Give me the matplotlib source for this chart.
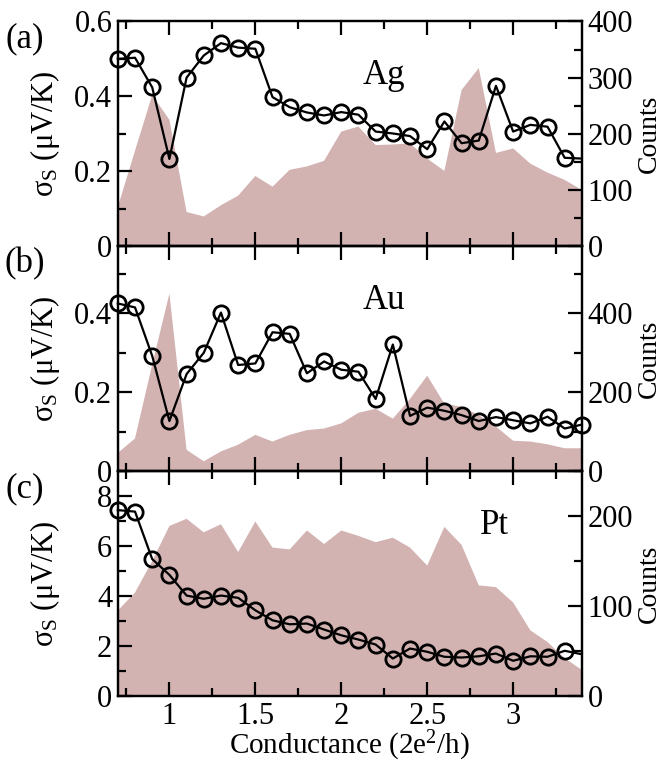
import numpy as np
import matplotlib
matplotlib.use('Agg')
import matplotlib.pyplot as plt
from matplotlib.ticker import MultipleLocator, FormatStrFormatter

plt.rcParams['font.family'] = 'serif'
plt.rcParams['font.serif'] = ['Liberation Serif', 'DejaVu Serif']
plt.rcParams['mathtext.fontset'] = 'stix'

# conductance grid (2e^2/h)
G = [0.7, 0.8, 0.9, 1.0, 1.1, 1.2, 1.3, 1.4, 1.5, 1.6, 1.7, 1.8, 1.9, 2.0,
     2.1, 2.2, 2.3, 2.4, 2.5, 2.6, 2.7, 2.8, 2.9, 3.0, 3.1, 3.2, 3.3, 3.4]

# sigma_S (uV/K)
sig_ag = [0.500, 0.503, 0.424, 0.233, 0.450, 0.509, 0.542, 0.530, 0.527, 0.398,
          0.371, 0.357, 0.349, 0.358, 0.351, 0.306, 0.301, 0.294, 0.259, 0.333,
          0.275, 0.282, 0.428, 0.306, 0.324, 0.319, 0.236, 0.234]
sig_au = [0.425, 0.415, 0.292, 0.127, 0.246, 0.300, 0.402, 0.269, 0.273, 0.352,
          0.348, 0.248, 0.278, 0.257, 0.252, 0.183, 0.321, 0.140, 0.161, 0.153,
          0.142, 0.127, 0.137, 0.129, 0.121, 0.138, 0.108, 0.118]
sig_pt = [7.44, 7.38, 5.48, 4.85, 4.02, 3.89, 4.02, 3.93, 3.43, 3.03,
          2.87, 2.90, 2.66, 2.43, 2.26, 2.06, 1.50, 1.90, 1.77, 1.57,
          1.54, 1.59, 1.70, 1.41, 1.59, 1.57, 1.81, 1.67]

# histogram counts
cnt_ag = [70, 170, 269, 225, 61, 53, 73, 90, 125, 106, 136, 142, 152, 204,
          213, 180, 181, 183, 156, 134, 278, 317, 166, 174, 147, 131, 118, 100]
cnt_au = [46, 83, 270, 450, 54, 25, 50, 67, 92, 75, 92, 104, 108, 121,
          148, 158, 133, 183, 242, 171, 163, 142, 113, 77, 75, 68, 58, 58]
cnt_pt = [95, 115, 150, 189, 197, 182, 191, 160, 194, 165, 163, 184, 169, 184,
          178, 171, 176, 165, 145, 188, 168, 123, 121, 104, 73, 60, 42, 29]

panels = [
    ('(a)', 'Ag', sig_ag, cnt_ag, 0.6, 0.2, 0.1, 400, 100, 50, 2.25, True),
    ('(b)', 'Au', sig_au, cnt_au, 0.57, 0.2, 0.1, 570, 200, 100, 2.25, False),
    ('(c)', 'Pt', sig_pt, cnt_pt, 9, 2, 1, 250, 100, 50, 2.89, True),
]

fig, axes = plt.subplots(3, 1, figsize=(6.62, 7.64), dpi=100, sharex=True)
fig.subplots_adjust(left=0.178, right=0.879, top=0.972, bottom=0.089, hspace=0)

fill_col = '#d3b2b2'
for ax, (tag, metal, sig, cnt, ymax, ymaj, ymin, cmax, cmaj, cmin, tx, last_open) in zip(axes, panels):
    ax2 = ax.twinx()
    ax2.fill_between(G, cnt, 0, facecolor=fill_col, edgecolor='none', lw=0)
    ax2.set_ylim(0, cmax)
    ax2.yaxis.set_major_locator(MultipleLocator(cmaj))
    ax2.yaxis.set_minor_locator(MultipleLocator(cmin))
    ax2.set_ylabel('Counts', fontsize=20)
    ax2.yaxis.set_label_coords(1.118, 0.5)

    ax.set_zorder(ax2.get_zorder() + 1)
    ax.patch.set_visible(False)
    mk = list(range(len(G) - 1)) if last_open else list(range(len(G)))
    ax.plot(G, sig, '-', color='k', lw=1.6, marker='o', ms=11, mfc='none',
            mec='k', mew=2, markevery=mk, clip_on=False)
    ax.set_xlim(0.7, 3.4)
    ax.set_ylim(0, ymax)
    ax.yaxis.set_major_locator(MultipleLocator(ymaj))
    ax.yaxis.set_minor_locator(MultipleLocator(ymin))
    ax.yaxis.set_major_formatter(FormatStrFormatter('%g'))
    ax.xaxis.set_major_locator(MultipleLocator(0.5))
    ax.xaxis.set_minor_locator(MultipleLocator(0.25))
    ax.xaxis.set_major_formatter(FormatStrFormatter('%g'))
    ax.set_ylabel(r'$\mathregular{\sigma_S}$ (μV/K)', fontsize=22)
    ax.yaxis.set_label_coords(-0.12, 0.5)
    ax.text(tx, 0.76 * ymax, metal, fontsize=25, ha='center', va='center')

    for a in (ax, ax2):
        for s in a.spines.values():
            s.set_linewidth(1.6)
        a.tick_params(which='both', direction='in', width=1.6, labelsize=22, pad=4)
        a.tick_params(which='major', length=10)
        a.tick_params(which='minor', length=5.5)
    ax.tick_params(which='both', top=True, right=False)
    ax2.tick_params(which='both', left=False, right=True)

    pos = ax.get_position()
    fig.text(0.038, pos.y1 - 0.023, tag, fontsize=25, ha='center', va='center')

axes[-1].tick_params(axis='x', pad=4)
axes[-1].set_xlabel(r'Conductance (2e$\mathregular{^2}$/h)', fontsize=21, labelpad=-1)

fig.savefig('out.png', dpi=100)
